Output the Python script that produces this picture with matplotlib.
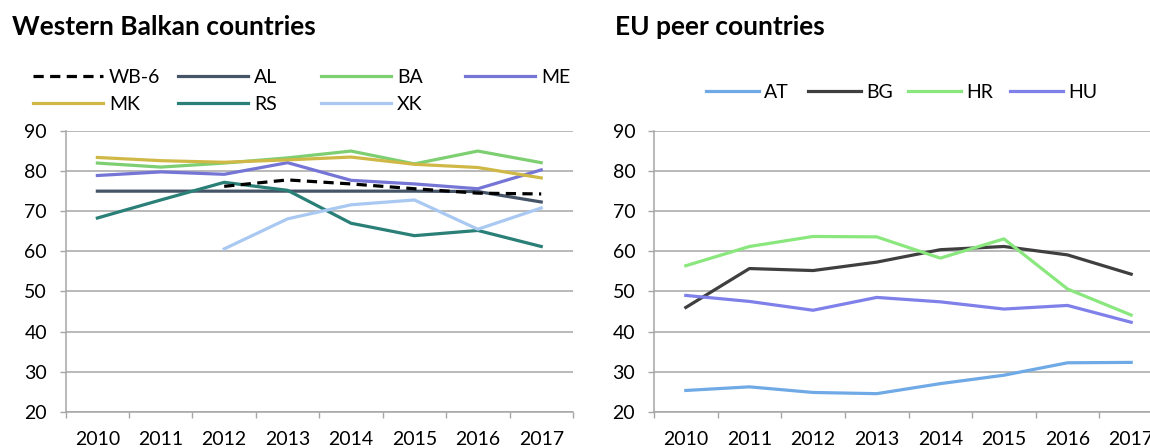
"""Western Balkan vs EU peer countries, two line panels."""

import numpy as np
import matplotlib
matplotlib.use("Agg")
import matplotlib.pyplot as plt

nan = np.nan

years = ["2010", "2011", "2012", "2013", "2014", "2015", "2016", "2017"]

# Western Balkan panel
wb_labels = ["WB-6", "AL", "BA", "ME", "MK", "RS", "XK"]
wb6 = [nan, nan, 76.2, 77.8, 76.8, 75.6, 74.5, 74.3]
al = [75.0, 75.0, 75.0, 75.0, 75.0, 75.0, 74.9, 72.3]
ba = [82.0, 81.0, 82.0, 83.3, 85.0, 81.8, 85.0, 82.1]
me = [78.9, 79.8, 79.2, 82.1, 77.7, 76.8, 75.6, 80.3]
mk = [83.4, 82.6, 82.2, 82.8, 83.5, 81.7, 80.9, 78.3]
rs = [68.3, 72.8, 77.2, 75.2, 67.0, 63.9, 65.2, 61.2]
xk = [nan, nan, 60.6, 68.1, 71.6, 72.8, 65.5, 70.8]

# EU peer panel
eu_labels = ["AT", "BG", "HR", "HU"]
at = [25.3, 26.2, 24.8, 24.5, 27.0, 29.1, 32.2, 32.3]
bg = [46.0, 55.7, 55.2, 57.3, 60.4, 61.2, 59.1, 54.3]
hr = [56.4, 61.2, 63.7, 63.6, 58.3, 63.1, 50.6, 44.1]
hu = [49.0, 47.5, 45.3, 48.5, 47.4, 45.6, 46.5, 42.3]

wb_colors = ["black", "#465468", "#7dcf72", "#7575d6", "#d0b846", "#2a7f77", "#a9c9f2"]
eu_colors = ["#6faae6", "#3f3f3f", "#8ae77e", "#8080ea"]

plt.rcParams["font.family"] = ["Lato", "DejaVu Sans"]
FS = 14
GRID = "#a6a6a6"

fig = plt.figure(figsize=(11.5, 4.48), dpi=100)
ax1 = fig.add_axes([0.0571, 0.081, 0.4411, 0.6266])
ax2 = fig.add_axes([0.5687, 0.081, 0.4426, 0.6266])


def style_axis(ax):
    ax.set_xlim(-0.5, len(years) - 0.5)
    ax.set_ylim(20, 90)
    ax.set_yticks(range(20, 91, 10))
    ax.set_xticks(range(len(years)))
    ax.set_xticklabels(years)
    ax.set_xticks(np.arange(-0.5, len(years), 1.0), minor=True)
    ax.tick_params(axis="x", which="major", length=0, pad=14, labelsize=FS)
    ax.tick_params(axis="x", which="minor", length=4.5, width=1, color=GRID, direction="out")
    ax.tick_params(axis="y", length=4.5, width=1, color=GRID, pad=9, labelsize=FS)
    ax.grid(True, axis="y", color=GRID, linewidth=1.1)
    ax.set_axisbelow(True)
    for side in ["top", "right"]:
        ax.spines[side].set_visible(False)
    for side in ["left", "bottom"]:
        ax.spines[side].set_color(GRID)
        ax.spines[side].set_linewidth(1.1)


x = np.arange(len(years))
wb_series = [wb6, al, ba, me, mk, rs, xk]
wb_handles = []
for vals, lab, col in zip(wb_series, wb_labels, wb_colors):
    ls = (0, (3.2, 2.0)) if lab == "WB-6" else "-"
    (h,) = ax1.plot(x, vals, color=col, lw=2.3, ls=ls, label=lab, zorder=3 if lab == "WB-6" else 2)
    wb_handles.append(h)

eu_series = [at, bg, hr, hu]
eu_handles = []
for vals, lab, col in zip(eu_series, eu_labels, eu_colors):
    (h,) = ax2.plot(x, vals, color=col, lw=2.3, label=lab)
    eu_handles.append(h)

style_axis(ax1)
style_axis(ax2)


def column_legend(handles, labels, xpos, ypos, hlen):
    fig.legend(handles, labels, loc="upper left", bbox_to_anchor=(xpos, ypos),
               bbox_transform=fig.transFigure, frameon=False, fontsize=FS,
               handlelength=hlen, handletextpad=0.3, labelspacing=0.5,
               borderpad=0, borderaxespad=0)


# Excel-style legend: equal width columns, filled row by row
wb_cols_x = [33 / 1150, 178 / 1150, 321 / 1150, 465 / 1150]
for i, cx in enumerate(wb_cols_x):
    idx = [j for j in (i, i + 4) if j < len(wb_labels)]
    column_legend([wb_handles[j] for j in idx], [wb_labels[j] for j in idx], cx, 1 - 69 / 448, 3.6)

eu_cols_x = [706 / 1150, 808 / 1150, 908 / 1150, 1010 / 1150]
for i, cx in enumerate(eu_cols_x):
    column_legend([eu_handles[i]], [eu_labels[i]], cx, 1 - 84 / 448, 2.7)

fig.text(12 / 1150, 1 - 35 / 448, "Western Balkan countries", fontsize=19,
         fontweight="bold", va="baseline", ha="left")
fig.text(615 / 1150, 1 - 35 / 448, "EU peer countries", fontsize=19,
         fontweight="bold", va="baseline", ha="left")

fig.savefig("out.png", dpi=100)
plt.close(fig)
